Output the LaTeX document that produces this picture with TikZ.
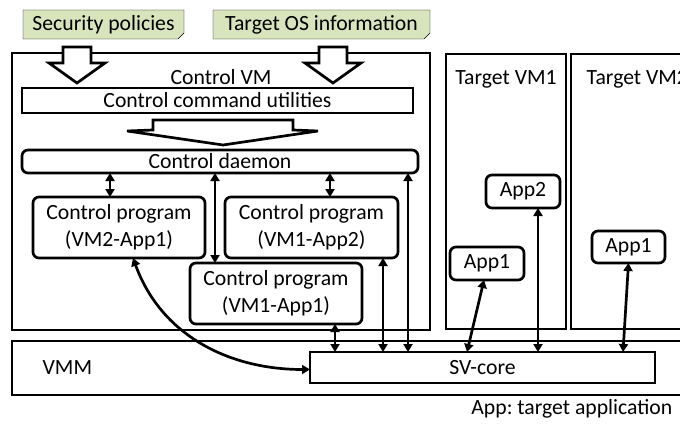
\documentclass[tikz,border=0pt]{standalone}
\usepackage{fontspec}
\setmainfont{Carlito}
\usepackage{xcolor}
\usepackage{tikz}
\usetikzlibrary{arrows.meta,positioning,backgrounds}
\definecolor{docgreen}{RGB}{216,228,188}

\begin{document}
\frenchspacing
\begin{tikzpicture}[x=1pt, y=-1pt, font=\fontsize{21.7}{27}\selectfont, line width=2.7pt, box/.style={draw, fill=white, inner sep=0pt, outer sep=0pt, align=center}, rbox/.style={box, rounded corners=6pt}, doc/.style={inner sep=0pt, outer sep=0pt, minimum width=#1, minimum height=29pt}, bigarr/.style={draw, fill=white, line join=miter}, arr/.style={{Triangle[length=8pt,width=9pt]}-{Triangle[length=8pt,width=9pt]}}]
\useasboundingbox (0,0) rectangle (680,425);
\clip (0,0) rectangle (680,425);
\node[doc=161pt] (pol) at (103.5,24.5) {Security policies};
\node[doc=217pt] (os) at (321.5,24.5) {Target OS information};
\begin{scope}[on background layer]
\foreach \d in {pol,os}
  \draw[fill=docgreen] (\d.north west) -- (\d.north east) -- ([yshift=6pt]\d.south east) -- ([xshift=-6pt]\d.south east) -- (\d.south west) -- cycle;
\end{scope}
\node[box, minimum width=418pt, minimum height=277pt] (cvm) at (221,191.5) {};
\node[below=12pt of cvm.north] (cvmlbl) {Control VM};
\foreach \c in {77,333}
  \draw[bigarr] (\c-14,47) -- (\c+14,47) -- (\c+14,63) -- (\c+28,63) -- (\c,83) -- (\c-28,63) -- (\c-14,63) -- cycle;
\node[box, minimum width=391pt, minimum height=25pt] (ccu) at (217.5,100.5) {Control command utilities};
\draw[bigarr] (153,120) -- (293,120) -- (293,130) -- (318,131) -- (223,145) -- (127,131) -- (153,130) -- cycle;
\node[rbox, minimum width=396pt, minimum height=23pt] (dmn) at (220,161.5) {Control daemon};
\node[rbox, minimum width=172pt, minimum height=61pt] (cp21) at (119,227.5) {Control program\\(VM2-App1)};
\node[rbox, minimum width=173pt, minimum height=61pt, right=20pt of cp21] (cp12) {Control program\\(VM1-App2)};
\node[rbox, minimum width=172pt, minimum height=61pt] (cp11) at (276,293.5) {Control program\\(VM1-App1)};
\node[box, minimum width=120pt, minimum height=275pt] (tvm1) at (506,191.5) {};
\node[box, minimum width=130pt, minimum height=275pt, right=5pt of tvm1] (tvm2) {};
\node[below=12pt of tvm1.north] (tvm1lbl) {Target VM1};
\node[below right=12pt and 11pt of tvm2.north west] (tvm2lbl) {Target VM2};
\node[rbox, minimum width=74pt, minimum height=33pt] (app2) at (523,191.5) {App2};
\node[rbox, minimum width=74pt, minimum height=33pt] (app1a) at (487,263.5) {App1};
\node[rbox, minimum width=73pt, minimum height=32pt] (app1b) at (628.5,247) {App1};
\node[box, minimum width=700pt, minimum height=54pt, anchor=north west] (vmm) at (12,341) {};
\node[right=26pt of vmm.west] (vmmlbl) {VMM};
\node[box, minimum width=345pt, minimum height=31pt] (sv) at (482.5,367.5) {SV-core};
\node[anchor=east] (note) at (677,409) {App: target application};
\foreach \n/\s/\t in {cp21.north/-9/dmn.south, cp12.north/18.5/dmn.south, cp11.north west/25/dmn.south, dmn.south east/-10/sv.north, cp11.south east/-27/sv.north, cp12.south east/-15/sv.north, app2.south/15/sv.north} {
  \coordinate (p) at ([xshift=\s pt]\n);
  \draw[arr] (p) -- (p |- \t);
}
\draw[arr] ([xshift=-3pt]app1a.south) -- ([xshift=157pt]sv.north west);
\draw[arr] (app1b.south) -- ([xshift=313pt]sv.north west);
\draw[arr] ([xshift=14pt]cp21.south) to[out=-70, in=180] ([yshift=-2pt]sv.west);
\end{tikzpicture}
\end{document}
